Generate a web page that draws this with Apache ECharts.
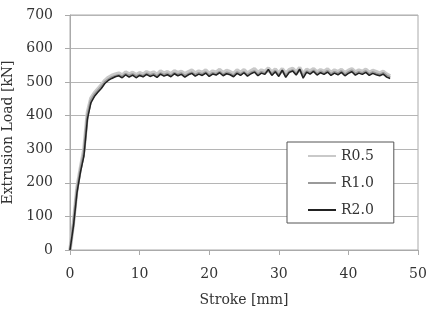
<!DOCTYPE html>
<html><head><meta charset="utf-8">
<script src="https://cdn.jsdelivr.net/npm/echarts@6/dist/echarts.min.js"></script>
<style>html,body{margin:0;padding:0;background:#fff}#c{width:430px;height:311px}</style>
</head><body><div id="c"></div>
<script>
var strokes = [0,0.5,1,1.5,2,2.5,3,3.5,4,4.5,5,5.5,6,6.5,7,7.5,8,8.5,9,9.5,10,10.5,11,11.5,12,12.5,13,13.5,14,14.5,15,15.5,16,16.5,17,17.5,18,18.5,19,19.5,20,20.5,21,21.5,22,22.5,23,23.5,24,24.5,25,25.5,26,26.5,27,27.5,28,28.5,29,29.5,30,30.5,31,31.5,32,32.5,33,33.5,34,34.5,35,35.5,36,36.5,37,37.5,38,38.5,39,39.5,40,40.5,41,41.5,42,42.5,43,43.5,44,44.5,45,45.5,46];
var r05 = [0,82,185,245,300,410,452,468,480,492,
505,514,520,524,527,521,530,524,529,522,
528,524,531,526,530,523,533,527,531,525,
534,528,532,525,531,536,527,533,529,536,
526,533,530,538,528,535,531,525,536,529,
537,527,534,540,529,536,532,542,530,539,
527,540,526,537,541,530,543,524,538,533,
540,530,537,532,539,529,536,531,538,528,
535,540,530,536,532,538,529,535,531,527,
532,524,518];
var r10 = [0,78,178,238,290,400,445,462,474,486,
500,508,514,518,521,516,524,519,523,517,
522,518,525,520,524,517,526,521,525,519,
527,522,526,518,524,528,521,527,523,529,
520,527,524,530,522,528,525,519,529,523,
530,521,528,532,522,530,526,535,524,533,
521,534,519,531,535,524,537,518,532,527,
534,524,531,526,533,523,530,525,532,522,
529,534,524,530,526,532,523,529,525,522,
527,519,514];
var r20 = [0,72,170,232,280,390,438,457,470,481,
496,505,511,516,519,513,522,515,521,513,
520,516,523,517,521,514,524,518,522,516,
525,519,523,515,522,526,518,524,520,527,
517,524,521,528,519,525,522,516,526,520,
528,518,525,530,519,527,523,538,520,531,
517,536,514,529,533,521,539,512,530,524,
532,521,528,523,530,520,527,522,529,519,
526,531,521,527,523,529,520,526,522,519,
524,515,511];
var seriesNames = ['R0.5','R1.0','R2.0'];
var xTicks = [0,10,20,30,40,50];
var yTicks = [0,100,200,300,400,500,600,700];

function pairs(ys){ return strokes.map(function(x,i){ return [x, ys[i]]; }); }
var font = 'DejaVu Serif';
var chart = echarts.init(document.getElementById('c'));
chart.setOption({
  animation:false,
  grid:{left:70, top:15, right:12, bottom:61, outerBoundsMode:'none', containLabel:false, show:true, borderColor:'#aaa', borderWidth:1},
  legend:{
    data:seriesNames, orient:'vertical', left:287, top:142,
    padding:[7,20,6,20], itemGap:13, itemWidth:28, itemHeight:14,
    backgroundColor:'#fff', borderColor:'#555', borderWidth:1, borderRadius:0,
    itemStyle:{opacity:0},
    textStyle:{fontFamily:font, fontSize:14, color:'#333'}
  },
  xAxis:{
    type:'value', min:xTicks[0], max:xTicks[xTicks.length-1], interval:10,
    name:'Stroke [mm]', nameLocation:'middle', nameGap:43,
    nameTextStyle:{fontFamily:font, fontSize:14, color:'#333'},
    axisLine:{lineStyle:{color:'#aaa'}},
    axisTick:{show:true, inside:false, length:5, lineStyle:{color:'#aaa'}},
    axisLabel:{fontFamily:font, fontSize:14, color:'#333', margin:17},
    splitLine:{show:false}
  },
  yAxis:{
    type:'value', min:yTicks[0], max:yTicks[yTicks.length-1], interval:100,
    name:'Extrusion Load [kN]', nameLocation:'middle', nameGap:53,
    nameTextStyle:{fontFamily:font, fontSize:14, color:'#333'},
    axisLine:{show:true, lineStyle:{color:'#aaa'}},
    axisTick:{show:true, length:5, lineStyle:{color:'#aaa'}},
    axisLabel:{fontFamily:font, fontSize:14, color:'#333', margin:17},
    splitLine:{show:true, lineStyle:{color:'#b5b5b5'}}
  },
  series:[
    {name:seriesNames[0], type:'line', symbol:'none', data:pairs(r05), lineStyle:{color:'#c9c9c9', width:3.5}, itemStyle:{color:'#c9c9c9'}},
    {name:seriesNames[1], type:'line', symbol:'none', data:pairs(r10), lineStyle:{color:'#9a9a9a', width:2.5}, itemStyle:{color:'#9a9a9a'}},
    {name:seriesNames[2], type:'line', symbol:'none', data:pairs(r20), lineStyle:{color:'#222', width:1.5}, itemStyle:{color:'#222'}}
  ]
});
</script></body></html>
